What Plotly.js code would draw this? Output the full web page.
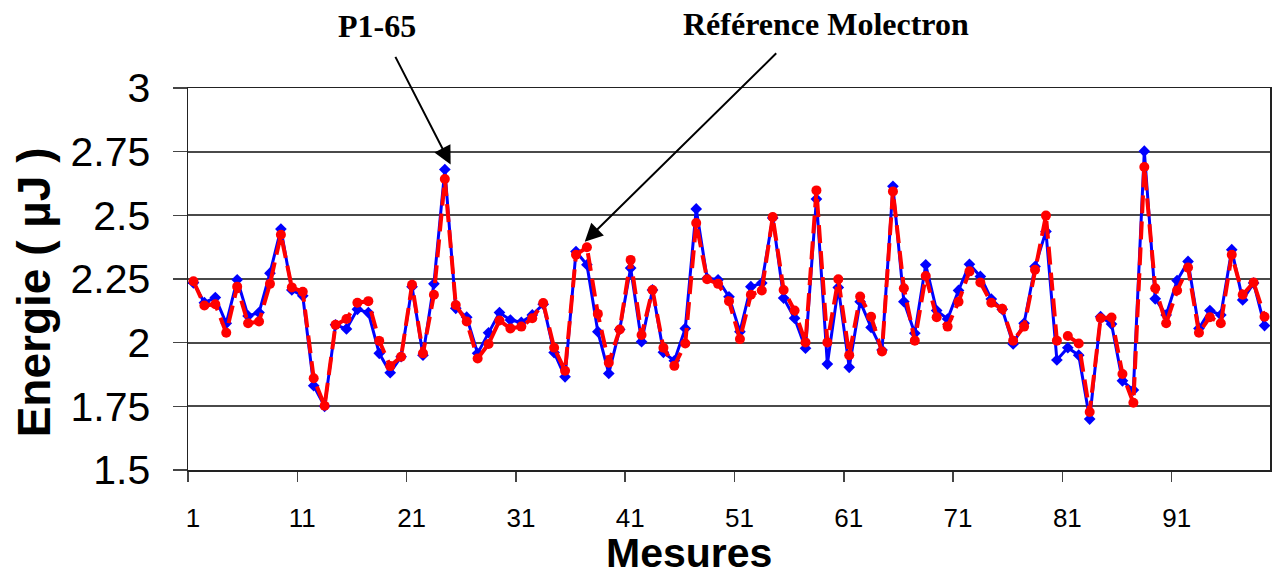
<!DOCTYPE html>
<html>
<head>
<meta charset="utf-8">
<script src="https://cdn.plot.ly/plotly-3.0.1.min.js"></script>
<style>html,body{margin:0;padding:0;background:#fff;}#chart{width:1275px;height:575px;}</style>
</head>
<body>
<div id="chart"></div>
<script>
// Energy readings (µJ) per measurement index
const seriesP165 = [2.235,2.157,2.177,2.076,2.247,2.105,2.118,2.273,2.446,2.207,
2.184,1.831,1.750,2.070,2.054,2.131,2.118,1.958,1.882,1.945,
2.220,1.951,2.231,2.680,2.135,2.100,1.958,2.039,2.118,2.089,
2.080,2.109,2.151,1.961,1.866,2.358,2.306,2.043,1.879,2.052,
2.293,2.004,2.207,1.962,1.929,2.056,2.525,2.253,2.247,2.180,
2.043,2.220,2.234,2.490,2.175,2.096,1.978,2.564,1.916,2.217,
1.903,2.161,2.060,1.971,2.614,2.161,2.037,2.306,2.126,2.093,
2.205,2.308,2.260,2.171,2.131,1.995,2.076,2.299,2.437,1.932,
1.980,1.951,1.700,2.102,2.073,1.850,1.814,2.752,2.172,2.109,
2.244,2.319,2.056,2.126,2.109,2.365,2.168,2.234,2.067];

const seriesRef = [2.241,2.146,2.151,2.039,2.220,2.076,2.083,2.231,2.424,2.217,
2.200,1.860,1.752,2.070,2.093,2.157,2.163,2.007,1.908,1.945,
2.227,1.958,2.188,2.643,2.148,2.083,1.938,1.995,2.087,2.056,
2.063,2.096,2.156,1.980,1.890,2.345,2.375,2.113,1.921,2.052,
2.325,2.030,2.207,1.980,1.909,1.997,2.470,2.249,2.231,2.163,
2.014,2.188,2.205,2.493,2.207,2.126,2.001,2.598,2.001,2.249,
1.951,2.181,2.102,1.965,2.594,2.214,2.008,2.262,2.100,2.063,
2.161,2.280,2.236,2.157,2.133,2.008,2.063,2.286,2.499,2.008,
2.026,1.997,1.728,2.096,2.099,1.877,1.764,2.690,2.214,2.076,
2.205,2.295,2.039,2.100,2.076,2.345,2.188,2.236,2.102];

const measures = seriesP165.map((_, i) => i + 1);
const xTickLabels = ["1","11","21","31","41","51","61","71","81","91"];
const yTickVals = [1.5,1.75,2,2.25,2.5,2.75,3];
const yTickLabels = ["1.5","1.75","2","2.25","2.5","2.75","3"];
const xTickVals = xTickLabels.map(s => Number(s) - 0.5);

const traces = [
  {
    x: measures, y: seriesP165, name: "P1-65", type: "scatter", mode: "lines+markers",
    line: {color: "#0000ff", width: 3},
    marker: {symbol: "diamond", size: 9, color: "#0000ff"}
  },
  {
    x: measures, y: seriesRef, name: "Référence Molectron", type: "scatter", mode: "lines+markers",
    line: {color: "#ff0000", width: 4, dash: "18px,8px"},
    marker: {symbol: "circle", size: 10, color: "#ff0000"}
  }
];

const layout = {
  width: 1275, height: 575,
  margin: {l: 188, r: 5, t: 88, b: 105},
  paper_bgcolor: "#ffffff", plot_bgcolor: "#ffffff",
  showlegend: false,
  font: {family: "Liberation Sans, Arial, sans-serif", color: "#000"},
  xaxis: {
    range: [0.5, 99.5], tickmode: "array", tickvals: xTickVals, ticktext: xTickLabels,
    ticks: "outside", ticklen: 10, tickcolor: "#444", tickwidth: 1.5,
    ticklabelshift: 5, ticklabelstandoff: 14,
    tickfont: {family: "Liberation Sans, Arial, sans-serif", size: 26, color: "#000"},
    showgrid: false, zeroline: false,
    showline: true, mirror: true, linecolor: "#222", linewidth: 1.5
  },
  yaxis: {
    range: [1.5, 3], tickmode: "array", tickvals: yTickVals, ticktext: yTickLabels,
    ticks: "outside", ticklen: 14, tickcolor: "#444", tickwidth: 1.5,
    ticklabelstandoff: 14,
    tickfont: {family: "Liberation Sans, Arial, sans-serif", size: 41, color: "#000"},
    showgrid: true, gridcolor: "#4a4a4a", gridwidth: 2, zeroline: false,
    showline: true, mirror: true, linecolor: "#222", linewidth: 1.5
  },
  annotations: [
    {xref: "paper", yref: "paper", x: 0.4634, y: -0.216, text: "<b>Mesures</b>", showarrow: false,
     xanchor: "center", yanchor: "middle", font: {family: "Liberation Sans, Arial, sans-serif", size: 41, color: "#000"}},
    {xref: "paper", yref: "paper", x: -0.142, y: 0.466, text: "<b>Energie ( µJ )</b>", showarrow: false, textangle: -90,
     xanchor: "center", yanchor: "middle", font: {family: "Liberation Sans, Arial, sans-serif", size: 46, color: "#000"}},
    {xref: "paper", yref: "paper", x: 0.1743, y: 1.161, text: "<b>P1-65</b>", showarrow: false,
     xanchor: "center", yanchor: "middle", font: {family: "Liberation Serif, Times New Roman, serif", size: 32, color: "#000"}},
    {xref: "paper", yref: "paper", x: 0.5894, y: 1.1666, text: "<b>Référence Molectron</b>", showarrow: false,
     xanchor: "center", yanchor: "middle", font: {family: "Liberation Serif, Times New Roman, serif", size: 32, color: "#000"}},
    {xref: "x", yref: "y", x: 24.53, y: 2.70, text: "", showarrow: true, ax: -56, ay: -109,
     arrowhead: 2, arrowsize: 1.8, arrowwidth: 2, arrowcolor: "#000"},
    {xref: "x", yref: "y", x: 36.8, y: 2.396, text: "", showarrow: true, ax: 193, ay: -190,
     arrowhead: 2, arrowsize: 1.8, arrowwidth: 2, arrowcolor: "#000"}
  ]
};

Plotly.newPlot("chart", traces, layout, {staticPlot: true, displayModeBar: false});
</script>
</body>
</html>
